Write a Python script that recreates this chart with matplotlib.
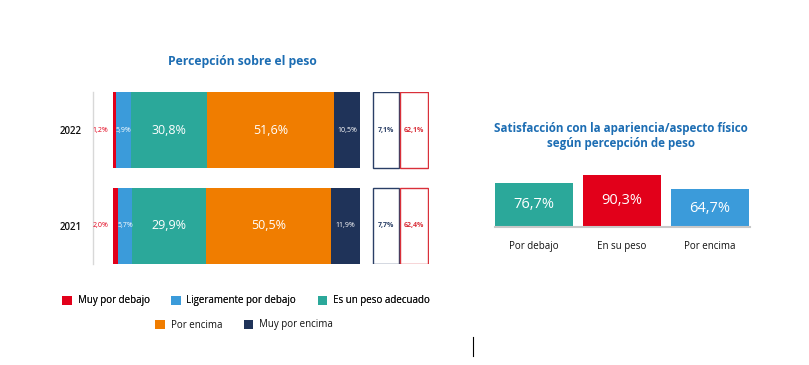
import matplotlib
matplotlib.use('Agg')
import matplotlib.pyplot as plt
from matplotlib.patches import Patch
from matplotlib.lines import Line2D

plt.rcParams.update({"font.family": ["Open Sans", "DejaVu Sans"]})

W, H = 809, 365

# ── data ─────────────────────────────────────────────────────────────────────
years = ["2022", "2021"]
segment_names = ["Muy por debajo", "Ligeramente por debajo", "Es un peso adecuado",
                 "Por encima", "Muy por encima"]
seg_2022 = [1.2, 5.9, 30.8, 51.6, 10.5]
seg_2021 = [2.0, 5.7, 29.9, 50.5, 11.9]
box_navy = [7.1, 7.7]
box_red = [62.1, 62.4]

sat_categories = ["Por debajo", "En su peso", "Por encima"]
sat_values = [76.7, 90.3, 64.7]

SEG_COLORS = ["#E2001A", "#3B9BDA", "#2BA89A", "#F07D00", "#1F3359"]
SAT_COLORS = ["#2BA89A", "#E2001A", "#3B9BDA"]
TITLE_BLUE = "#1C6DB3"
NAVY = "#2A3F66"
RED = "#D9303A"


def fmt(v):
    return f"{v:.1f}".replace(".", ",") + "%"


def px_axes(fig, x0, y0, x1, y1):
    return fig.add_axes([x0 / W, 1 - y1 / H, (x1 - x0) / W, (y1 - y0) / H])


fig = plt.figure(figsize=(W / 100, H / 100), dpi=100)

# ── left: stacked bars ───────────────────────────────────────────────────────
ax = px_axes(fig, 113, 92, 360, 264)
for s in ["top", "right", "bottom"]:
    ax.spines[s].set_visible(False)
ax.spines["left"].set_position(("outward", 14.4))
ax.spines["left"].set_color("#D8D8D8")
ax.spines["left"].set_linewidth(1)

rows = [seg_2022, seg_2021]
for i, row in enumerate(rows):
    left = 0
    for j, v in enumerate(row):
        ax.barh(i, v, left=left, height=0.8, color=SEG_COLORS[j], linewidth=0)
        cx = left + v / 2
        if v < 3:
            ax.text(-1.8, i, fmt(v), ha="right", va="center", fontsize=5,
                    color=SEG_COLORS[0])
        elif v < 8 or v < 15 and j == 4:
            ax.text(cx, i, fmt(v), ha="center", va="center", fontsize=5,
                    color="white")
        else:
            ax.text(cx, i, fmt(v), ha="center", va="center", fontsize=9,
                    color="white")
        left += v
ax.set_xlim(0, 100)
ax.set_ylim(1.4, -0.4)
ax.set_yticks(range(len(years)))
ax.set_yticklabels(years, fontsize=7, color="#111111", fontweight="semibold")
ax.set_xticks([])
ax.tick_params(axis="y", length=0, pad=8)

# boxes
bx = px_axes(fig, 372, 92, 429, 264)
for i in range(len(years)):
    bx.barh(i, 1, left=0, height=0.8, facecolor="white", edgecolor=NAVY, linewidth=1)
    bx.barh(i, 1.07, left=1.02, height=0.8, facecolor="white", edgecolor=RED, linewidth=1)
    bx.text(0.5, i, fmt(box_navy[i]), ha="center", va="center", fontsize=5,
            color=NAVY, fontweight="bold")
    bx.text(1.555, i, fmt(box_red[i]), ha="center", va="center", fontsize=5,
            color=RED, fontweight="bold")
bx.set_xlim(-0.02, 2.11)
bx.set_ylim(1.4, -0.4)
bx.axis("off")

fig.text(242 / W, 1 - 61 / H, "Percepción sobre el peso", ha="center", va="center",
         fontsize=8.7, fontweight="bold", color=TITLE_BLUE)

# legend in two rows
handles = [Patch(facecolor=c, edgecolor="none") for c in SEG_COLORS]
leg_kw = dict(loc="center", frameon=False, fontsize=7, handlelength=1.0,
              handleheight=1.0, handletextpad=0.6, columnspacing=2.2,
              labelcolor="#111111")
leg1 = fig.legend(handles[:3], segment_names[:3], ncol=3,
                  bbox_to_anchor=(246 / W, 1 - 301 / H), **leg_kw)
fig.legend(handles[3:], segment_names[3:], ncol=2,
           bbox_to_anchor=(244 / W, 1 - 325 / H), **leg_kw)
fig.add_artist(leg1)

# ── right: satisfaction bars ─────────────────────────────────────────────────
ax2 = px_axes(fig, 495, 169, 750, 227)
xs = range(len(sat_categories))
ax2.bar(xs, sat_values, width=0.886, color=SAT_COLORS, linewidth=0)
for x, v in zip(xs, sat_values):
    ax2.text(x, v / 2, fmt(v), ha="center", va="center", fontsize=10.5,
             color="white")
ax2.set_xlim(-0.443, 2.455)
ax2.set_ylim(0, 100)
ax2.set_xticks(list(xs))
ax2.set_xticklabels(sat_categories, fontsize=7, color="#111111")
ax2.set_yticks([])
for s in ["top", "right", "left"]:
    ax2.spines[s].set_visible(False)
ax2.spines["bottom"].set_color("#C8C8C8")
ax2.spines["bottom"].set_linewidth(1.5)
ax2.tick_params(axis="x", length=0, pad=10)

fig.text(621 / W, 1 - 136 / H,
         "Satisfacción con la apariencia/aspecto físico\nsegún percepción de peso",
         ha="center", va="center", fontsize=8.4, fontweight="bold",
         color=TITLE_BLUE, linespacing=1.15)

# small separator mark at the bottom
fig.add_artist(Line2D([473 / W, 473 / W], [1 - 356 / H, 1 - 337 / H],
                      color="black", linewidth=0.8))

fig.savefig("out.png", dpi=100)
